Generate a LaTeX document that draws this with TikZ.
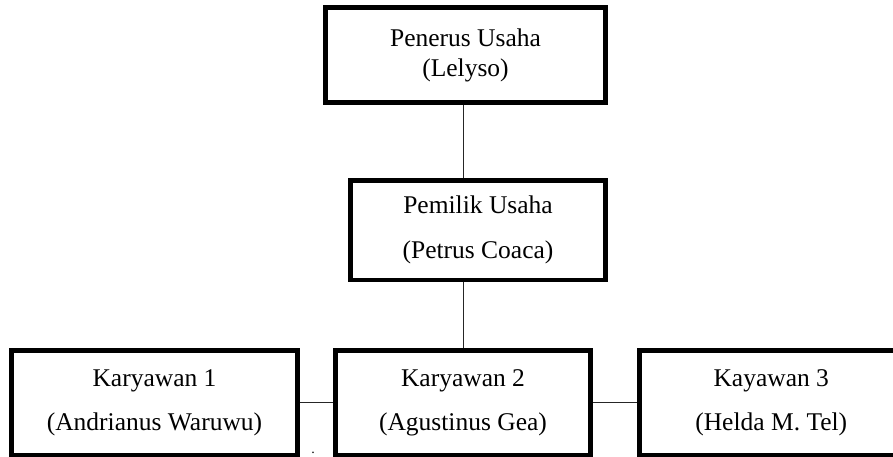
\documentclass[tikz,border=0pt]{standalone}
\usepackage{fontspec}
\setmainfont{Liberation Serif}
\begin{document}
\begin{tikzpicture}[x=1pt,y=1pt,
  orgbox/.style={draw=black, line width=4.5pt, rectangle, inner sep=0pt, align=center,
    font=\fontsize{25.5}{30}\selectfont},
  link/.style={draw=black!85, line width=1pt}]
\useasboundingbox (0,0) rectangle (893,457);
\clip (0,0) rectangle (893,457);
\node[orgbox, minimum width=280pt, minimum height=95pt] (top) at (465.5,402) {Penerus Usaha\\(Lelyso)};
\node[orgbox, minimum width=255pt, minimum height=99.5pt] (mid) at (478,226.75) {Pemilik Usaha\\[15pt](Petrus Coaca)};
\node[orgbox, minimum width=286pt, minimum height=104.5pt] (k1) at (154.5,54.25) {Karyawan 1\\[14pt](Andrianus Waruwu)};
\node[orgbox, minimum width=255pt, minimum height=104.5pt] (k2) at (463,54.25) {Karyawan 2\\[14pt](Agustinus Gea)};
\node[orgbox, minimum width=263.5pt, minimum height=104.5pt] (k3) at (771.25,54.25) {Kayawan 3\\[14pt](Helda M. Tel)};
\node[font=\fontsize{14}{16}\selectfont, inner sep=0pt, anchor=base] (dot) at (313,3) {.};
\draw[link] (top.south -| k2.north) -- (mid.north -| k2.north);
\draw[link] (mid.south -| k2.north) -- (k2.north);
\draw[link] (k1.east) -- (k2.west);
\draw[link] (k2.east) -- (k3.west);
\end{tikzpicture}
\end{document}
